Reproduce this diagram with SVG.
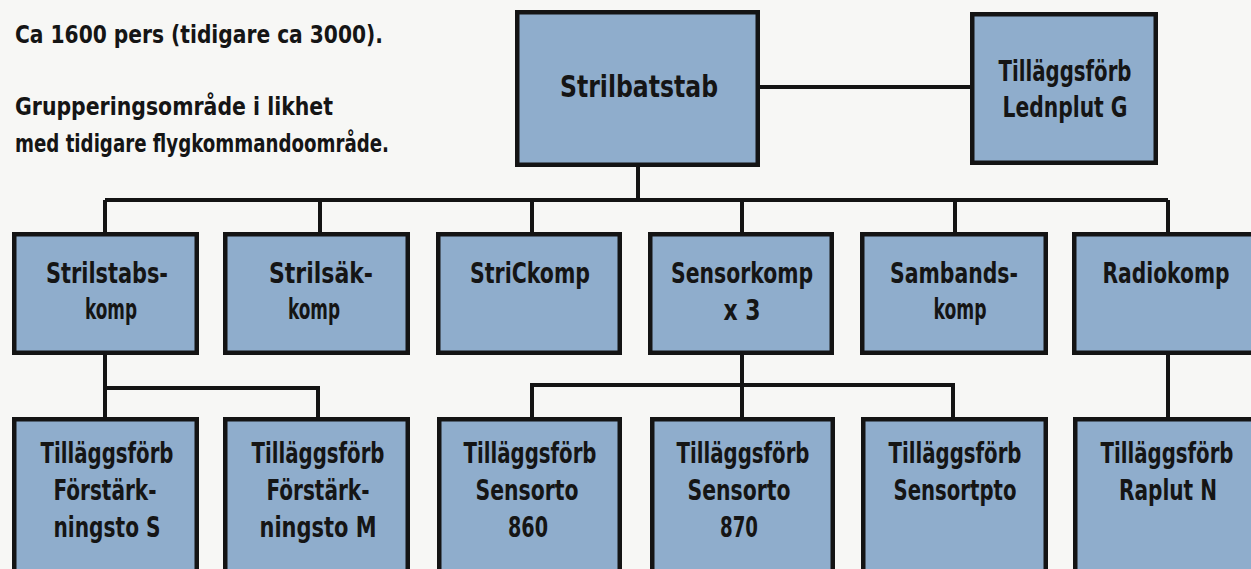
<svg xmlns="http://www.w3.org/2000/svg" width="1251" height="569" viewBox="0 0 1251 569">
<style>
.box{fill:#8fadcc;stroke:#141414;stroke-width:4.5}
.c{fill:none;stroke:#141414;stroke-width:4}
text{font-family:"Liberation Sans Narrow","DejaVu Sans Condensed","Liberation Sans",sans-serif;font-weight:bold;fill:#151515}
.t{font-size:28px;text-anchor:middle}
.big{font-size:30px;text-anchor:middle}
.note{font-size:25px}
</style>
<rect x="0" y="0" width="1251" height="569" fill="#f7f7f5"/>
<g id="note">
<text class="note" x="15" y="43" textLength="368" lengthAdjust="spacingAndGlyphs">Ca 1600 pers (tidigare ca 3000).</text>
<text class="note" x="15" y="115" textLength="318" lengthAdjust="spacingAndGlyphs">Grupperingsområde i likhet</text>
<text class="note" x="15" y="152" textLength="374" lengthAdjust="spacingAndGlyphs">med tidigare flygkommandoområde.</text>
</g>
<g id="connectors">
<path class="c" d="M760 87H970"/>
<path class="c" d="M638 167V200"/>
<path class="c" d="M105 200H1168"/>
<path class="c" d="M105 200V232M320 200V232M532 200V232M742 200V232M955 200V232M1168 200V232"/>
<path class="c" d="M105 355V417M105 388H318V417"/>
<path class="c" d="M742 355V417M532 417V385H953V417"/>
<path class="c" d="M1168 355V417"/>
</g>
<g id="strilbatstab">
<rect class="box" x="517.25" y="12.25" width="240.5" height="152.5"/>
<text class="big" x="639" y="97" textLength="158" lengthAdjust="spacingAndGlyphs">Strilbatstab</text>
</g>
<g id="lednplut">
<rect class="box" x="972.25" y="14.25" width="183.5" height="148.5"/>
<text class="t" x="1065" y="81" textLength="133" lengthAdjust="spacingAndGlyphs">Tilläggsförb</text>
<text class="t" x="1065" y="117" textLength="125" lengthAdjust="spacingAndGlyphs">Lednplut G</text>
</g>
<g id="strilstabskomp">
<rect class="box" x="14.25" y="234.25" width="182.5" height="118.5"/>
<text class="t" x="107" y="283" textLength="122" lengthAdjust="spacingAndGlyphs">Strilstabs-</text>
<text class="t" x="111" y="319" textLength="52" lengthAdjust="spacingAndGlyphs">komp</text>
</g>
<g id="strilsakkomp">
<rect class="box" x="225.25" y="234.25" width="182.5" height="118.5"/>
<text class="t" x="321" y="283" textLength="104" lengthAdjust="spacingAndGlyphs">Strilsäk-</text>
<text class="t" x="314" y="319" textLength="52" lengthAdjust="spacingAndGlyphs">komp</text>
</g>
<g id="strickomp">
<rect class="box" x="438.25" y="234.25" width="181.5" height="118.5"/>
<text class="t" x="530" y="283" textLength="120" lengthAdjust="spacingAndGlyphs">StriCkomp</text>
</g>
<g id="sensorkomp">
<rect class="box" x="650.25" y="234.25" width="181.5" height="118.5"/>
<text class="t" x="742" y="283" textLength="142" lengthAdjust="spacingAndGlyphs">Sensorkomp</text>
<text class="t" x="742" y="320" textLength="37" lengthAdjust="spacingAndGlyphs">x 3</text>
</g>
<g id="sambandskomp">
<rect class="box" x="862.25" y="234.25" width="183.5" height="118.5"/>
<text class="t" x="954" y="283" textLength="128" lengthAdjust="spacingAndGlyphs">Sambands-</text>
<text class="t" x="960" y="319" textLength="53" lengthAdjust="spacingAndGlyphs">komp</text>
</g>
<g id="radiokomp">
<rect class="box" x="1074.25" y="234.25" width="190" height="118.5"/>
<text class="t" x="1166" y="283" textLength="127" lengthAdjust="spacingAndGlyphs">Radiokomp</text>
</g>
<g id="forst-s">
<rect class="box" x="14.25" y="419.25" width="182.5" height="170"/>
<text class="t" x="107" y="463" textLength="133" lengthAdjust="spacingAndGlyphs">Tilläggsförb</text>
<text class="t" x="105" y="500" textLength="103" lengthAdjust="spacingAndGlyphs">Förstärk-</text>
<text class="t" x="107" y="537" textLength="107" lengthAdjust="spacingAndGlyphs">ningsto S</text>
</g>
<g id="forst-m">
<rect class="box" x="225.25" y="419.25" width="182.5" height="170"/>
<text class="t" x="318" y="463" textLength="133" lengthAdjust="spacingAndGlyphs">Tilläggsförb</text>
<text class="t" x="318" y="500" textLength="103" lengthAdjust="spacingAndGlyphs">Förstärk-</text>
<text class="t" x="318" y="537" textLength="117" lengthAdjust="spacingAndGlyphs">ningsto M</text>
</g>
<g id="sensorto860">
<rect class="box" x="439.25" y="419.25" width="180.5" height="170"/>
<text class="t" x="530" y="463" textLength="133" lengthAdjust="spacingAndGlyphs">Tilläggsförb</text>
<text class="t" x="527" y="500" textLength="103" lengthAdjust="spacingAndGlyphs">Sensorto</text>
<text class="t" x="528" y="537" textLength="40" lengthAdjust="spacingAndGlyphs">860</text>
</g>
<g id="sensorto870">
<rect class="box" x="652.25" y="419.25" width="180.5" height="170"/>
<text class="t" x="743" y="463" textLength="133" lengthAdjust="spacingAndGlyphs">Tilläggsförb</text>
<text class="t" x="739" y="500" textLength="103" lengthAdjust="spacingAndGlyphs">Sensorto</text>
<text class="t" x="739" y="537" textLength="38" lengthAdjust="spacingAndGlyphs">870</text>
</g>
<g id="sensortpto">
<rect class="box" x="863.25" y="419.25" width="182.5" height="170"/>
<text class="t" x="955" y="463" textLength="133" lengthAdjust="spacingAndGlyphs">Tilläggsförb</text>
<text class="t" x="955" y="500" textLength="123" lengthAdjust="spacingAndGlyphs">Sensortpto</text>
</g>
<g id="raplut">
<rect class="box" x="1075.25" y="419.25" width="190" height="170"/>
<text class="t" x="1167" y="463" textLength="133" lengthAdjust="spacingAndGlyphs">Tilläggsförb</text>
<text class="t" x="1168" y="500" textLength="98" lengthAdjust="spacingAndGlyphs">Raplut N</text>
</g>
</svg>
